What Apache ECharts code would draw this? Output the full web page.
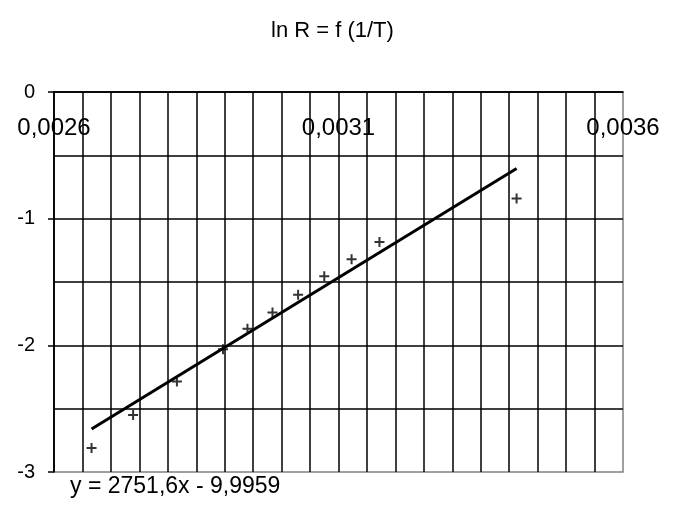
<!DOCTYPE html>
<html>
<head>
<meta charset="utf-8">
<script src="https://cdn.jsdelivr.net/npm/echarts@6/dist/echarts.min.js"></script>
<style>
  html, body { margin: 0; padding: 0; background: #fff; }
  #main { width: 677px; height: 506px; }
</style>
</head>
<body>
<div id="main"></div>
<script>
// 1/T values and ln R values
const invT = [0.002666, 0.002739, 0.002816, 0.002897, 0.002940, 0.002984, 0.003029, 0.003075, 0.003123, 0.003172, 0.003413]
const lnR = [-2.81, -2.55, -2.285, -2.03, -1.87, -1.74, -1.60, -1.455, -1.32, -1.185, -0.84]

// linear trend line shown on the chart
const slope = 2751.6
const intercept = -9.9959
const trendText = 'y = 2751,6x - 9,9959'

// labelled x ticks
const xLabelValues = [0.0026, 0.0031, 0.0036]
const xLabelTexts = ['0,0026', '0,0031', '0,0036']

const points = invT.map((x, i) => [x, lnR[i]])
const xMin = Math.min(...invT)
const xMax = Math.max(...invT)
const trend = [[xMin, slope * xMin + intercept], [xMax, slope * xMax + intercept]]

const font = 'Liberation Sans'
const myChart = echarts.init(document.querySelector('#main'))
const option = {
    animation: false,
    backgroundColor: '#fff',
    title: [{
        text: 'ln R = f (1/T)',
        left: 266,
        top: 15,
        textStyle: { fontSize: 22, fontWeight: 'normal', color: '#000', fontFamily: font }
    }, {
        text: trendText,
        left: 65,
        top: 470,
        textStyle: { fontSize: 23, fontWeight: 'normal', color: '#000', fontFamily: font }
    }],
    grid: {
        left: 54,
        right: 54,
        top: 92,
        bottom: 34,
        show: true,
        borderColor: '#808080',
        borderWidth: 1.5
    },
    xAxis: {
        type: 'value',
        position: 'top',
        min: 0.0026,
        max: 0.0036,
        interval: 0.00005,
        axisLine: { onZero: false, lineStyle: { color: '#000', width: 1.5 } },
        axisTick: { show: false },
        axisLabel: {
            inside: true,
            margin: 24,
            fontSize: 24,
            color: '#000',
            fontFamily: font,
            formatter: v => {
                const i = xLabelValues.findIndex(t => Math.abs(t - v) < 1e-9)
                return i >= 0 ? xLabelTexts[i] : ''
            }
        },
        splitLine: { show: true, showMaxLine: false, lineStyle: { color: '#000', width: 1.5 } }
    },
    yAxis: {
        type: 'value',
        min: -3,
        max: 0,
        interval: 1,
        axisLine: { show: true, onZero: false, lineStyle: { color: '#000', width: 1.5 } },
        axisTick: { show: true, length: 6, lineStyle: { color: '#000', width: 1.5 } },
        axisLabel: { margin: 19, fontSize: 20, color: '#000', fontFamily: font },
        splitLine: { show: true, showMinLine: false, lineStyle: { color: '#000', width: 1.5 } },
        minorTick: { show: false, splitNumber: 2 },
        minorSplitLine: { show: true, lineStyle: { color: '#000', width: 1.5 } }
    },
    series: [
        {
            type: 'line',
            data: trend,
            showSymbol: false,
            symbol: 'none',
            lineStyle: { color: '#000', width: 3 },
            z: 3
        },
        {
            type: 'scatter',
            data: points,
            symbol: 'path://M4,0H6V4H10V6H6V10H4V6H0V4H4Z',
            symbolSize: 10,
            itemStyle: { color: '#000' },
            z: 4
        }
    ]
}
myChart.setOption(option)
window.addEventListener('resize', function () {
    myChart.resize()
})
</script>
</body>
</html>
